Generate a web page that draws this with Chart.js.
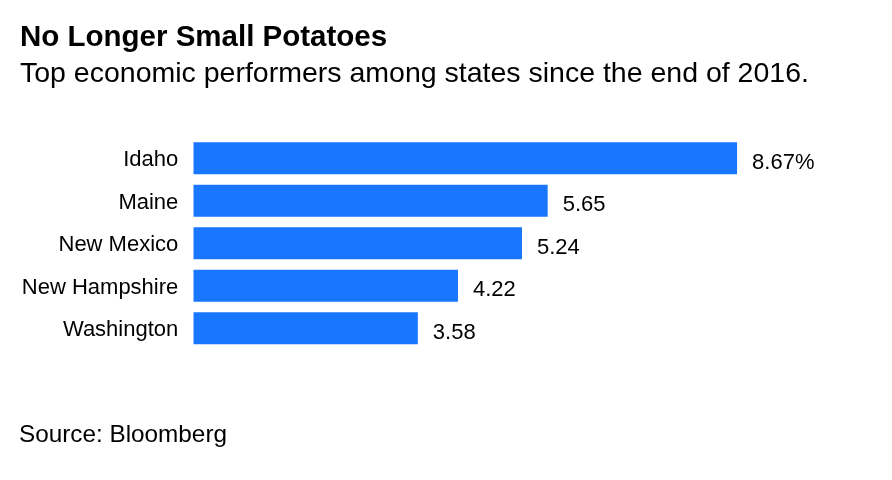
<!DOCTYPE html>
<html>
<head>
<meta charset="utf-8">
<script src="https://cdn.jsdelivr.net/npm/chart.js@4/dist/chart.umd.min.js"></script>
<style>
  html, body { margin: 0; padding: 0; background: #ffffff; }
  canvas { display: block; }
</style>
</head>
<body>
<canvas id="chart" width="892" height="480"></canvas>
<script>
// ---- Data ----
const titleText = "No Longer Small Potatoes";
const subtitleText = "Top economic performers among states since the end of 2016.";
const sourceText = "Source: Bloomberg";
const states = ["Idaho", "Maine", "New Mexico", "New Hampshire", "Washington"];
const growth = [8.67, 5.65, 5.24, 4.22, 3.58];
const valueSuffixes = ["%", "", "", "", ""];

// ---- Styles ----
const FONT = "'Liberation Sans', Arial, Helvetica, sans-serif";
const BAR_COLOR = "#1976ff";
const TEXT_COLOR = "#000000";

const headerFooterPlugin = {
  id: 'headerFooter',
  afterDraw(chart) {
    const ctx = chart.ctx;
    ctx.save();
    ctx.fillStyle = TEXT_COLOR;
    ctx.textAlign = 'left';
    ctx.textBaseline = 'alphabetic';
    ctx.font = "bold 29.5px " + FONT;
    ctx.fillText(titleText, 20, 45.5);
    ctx.font = "28.5px " + FONT;
    ctx.fillText(subtitleText, 20, 81.5);
    ctx.font = "24.3px " + FONT;
    ctx.fillText(sourceText, 19, 442);
    ctx.restore();
  }
};

const valueLabelPlugin = {
  id: 'valueLabels',
  afterDatasetsDraw(chart) {
    const ctx = chart.ctx;
    const meta = chart.getDatasetMeta(0);
    ctx.save();
    ctx.fillStyle = TEXT_COLOR;
    ctx.font = "22px " + FONT;
    ctx.textAlign = 'left';
    ctx.textBaseline = 'alphabetic';
    meta.data.forEach((bar, i) => {
      const label = growth[i].toFixed(2) + valueSuffixes[i];
      ctx.fillText(label, bar.x + 15, bar.y + 10.5);
    });
    ctx.restore();
  }
};

new Chart(document.getElementById('chart'), {
  type: 'bar',
  data: {
    labels: states,
    datasets: [{
      data: growth,
      backgroundColor: BAR_COLOR,
      borderWidth: 0,
      categoryPercentage: 1.0,
      barPercentage: 0.753
    }]
  },
  options: {
    indexAxis: 'y',
    responsive: false,
    devicePixelRatio: 1,
    animation: false,
    layout: {
      padding: { top: 137, bottom: 130.5, left: 0, right: 71.5 }
    },
    plugins: {
      legend: { display: false },
      tooltip: { enabled: false },
      title: { display: false }
    },
    scales: {
      x: {
        display: false,
        min: 0,
        max: 10
      },
      y: {
        grid: { display: false, drawTicks: false },
        border: { display: false },
        ticks: {
          color: TEXT_COLOR,
          padding: 15,
          labelOffset: 2,
          font: { family: FONT, size: 22 }
        },
        afterFit(scale) { scale.width = 193.3; }
      }
    }
  },
  plugins: [headerFooterPlugin, valueLabelPlugin]
});
</script>
</body>
</html>
